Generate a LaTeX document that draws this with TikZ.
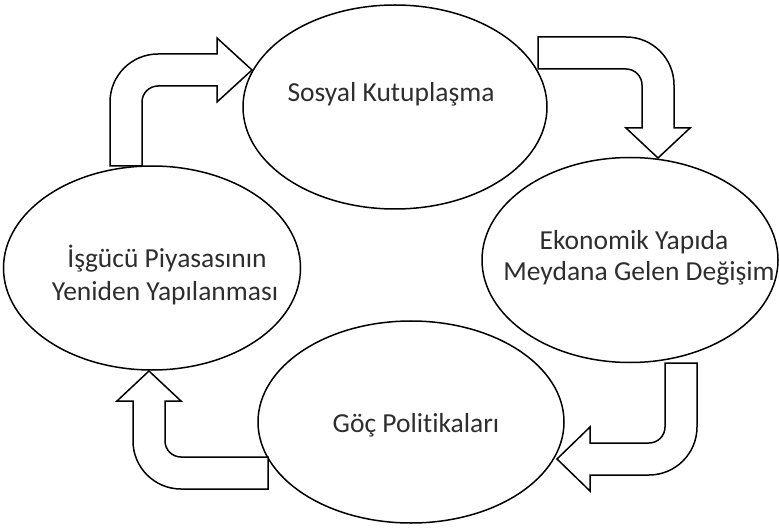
\documentclass[tikz,border=0pt]{standalone}
\usepackage{fontspec}
\setmainfont{Carlito}[Ligatures=NoCommon]
\usetikzlibrary{shapes.geometric}
\begin{document}
\begin{tikzpicture}[x=1pt,y=-1pt,
  oval/.style={ellipse,draw=black,line width=1.5pt,inner sep=0pt},
  lbl/.style={anchor=base,text=black!82,font=\fontsize{27.5}{31}\selectfont,inner sep=0pt},
  blockarrow/.style={draw=black,fill=white,line width=1.5pt,line join=miter}]
\useasboundingbox (0,0) rectangle (779,529);
% ellipses
\node[oval,minimum width=304pt,minimum height=204pt] (sk) at (395,107) {};
\node[oval,minimum width=296pt,minimum height=205pt] (eko) at (630,260) {};
\node[oval,minimum width=306pt,minimum height=202pt] (goc) at (411,422) {};
\node[oval,minimum width=297pt,minimum height=204pt] (isg) at (152,268) {};
% labels
\node[lbl] (t1) at (391,102) {Sosyal Kutupla\c{s}ma};
\node[lbl] (t2a) at (634,250) {Ekonomik Yap\i da};
\node[lbl] (t2b) at (639,281) {Meydana Gelen De\u{g}i\c{s}im};
\node[lbl] (t3) at (416,432) {G\"o\c{c} Politikalar\i};
\node[lbl] (t4a) at (167,268) {\.I\c{s}g\"uc\"u Piyasas\i n\i n};
\node[lbl] (t4b) at (165,301) {Yeniden Yap\i lanmas\i};
% block arrows
\draw[blockarrow] (110,166) -- (110,102) .. controls (110,75.5) and (131.5,54) .. (158,54)
  -- (217,54) -- (217,38) -- (252,70) -- (217,102) -- (217,86) -- (158,86)
  .. controls (149.2,86) and (142,93.2) .. (142,102) -- (142,166) -- cycle;
\draw[blockarrow] (538,37) -- (626,37) .. controls (652.5,37) and (674,58.5) .. (674,85)
  -- (674,128) -- (690,128) -- (658,158) -- (626,128) -- (642,128) -- (642,85)
  .. controls (642,76.2) and (634.8,69) .. (626,69) -- (538,69) -- cycle;
\draw[blockarrow] (665,363) -- (697,363) -- (697,427) .. controls (697,453.5) and (675.5,475) .. (649,475)
  -- (590,475) -- (590,491) -- (557,459) -- (590,427) -- (590,443) -- (649,443)
  .. controls (657.8,443) and (665,435.8) .. (665,427) -- cycle;
\draw[blockarrow] (268,489) -- (181,489) .. controls (154.5,489) and (133,467.5) .. (133,441)
  -- (133,401) -- (117,401) -- (149,371) -- (181,401) -- (165,401) -- (165,441)
  .. controls (165,449.8) and (172.2,457) .. (181,457) -- (268,457) -- cycle;
\end{tikzpicture}
\end{document}
